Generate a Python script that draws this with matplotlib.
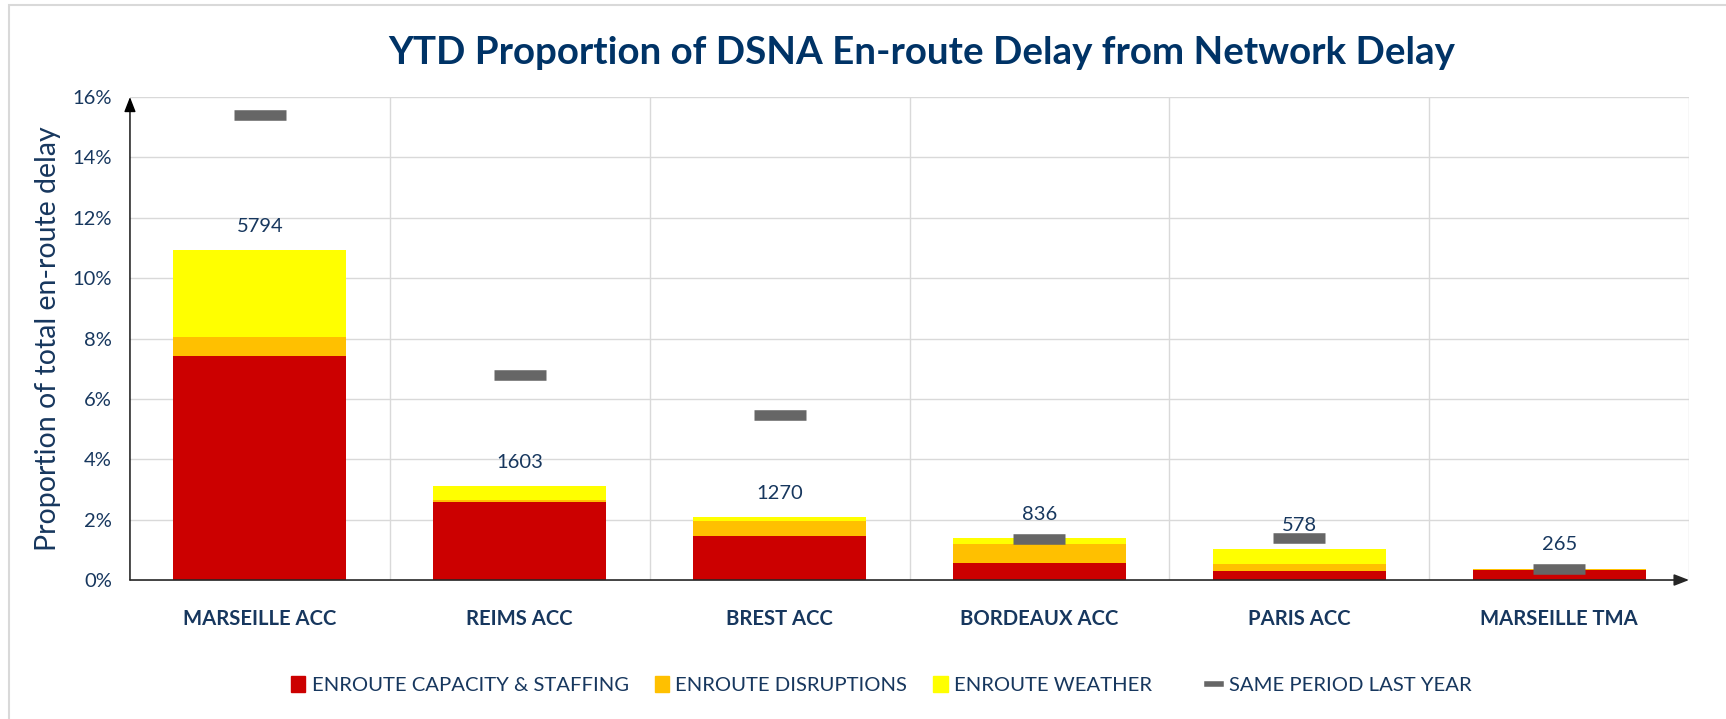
import numpy as np
import matplotlib.pyplot as plt
from matplotlib.patches import Patch, Rectangle
from matplotlib.lines import Line2D

plt.rcParams['font.family'] = ['Lato', 'DejaVu Sans']

#%% datos
categories = ['MARSEILLE ACC', 'REIMS ACC', 'BREST ACC', 'BORDEAUX ACC', 'PARIS ACC', 'MARSEILLE TMA']
capacity = [7.43, 2.59, 1.46, 0.58, 0.29, 0.32]      # % enroute capacity & staffing
disruptions = [0.62, 0.07, 0.49, 0.61, 0.24, 0.03]   # % enroute disruptions
weather = [2.88, 0.44, 0.14, 0.21, 0.51, 0.03]       # % enroute weather
last_year = [15.4, 6.78, 5.46, 1.37, 1.39, 0.36]     # % same period last year
delay_totals = [5794, 1603, 1270, 836, 578, 265]

navy = '#17375E'
col_cap, col_dis, col_wx, col_ly = '#CC0000', '#FFC000', '#FFFF00', '#666666'

#%% figura
fig = plt.figure(figsize=(17.26, 7.19), dpi=100)
ax = fig.add_axes([0.0753, 0.1933, 0.9033, 0.6717])

x = np.arange(len(categories))
cap = np.array(capacity)
dis = np.array(disruptions)
wx = np.array(weather)
w = 0.665

ax.bar(x, cap, w, color=col_cap, zorder=3)
ax.bar(x, dis, w, bottom=cap, color=col_dis, zorder=3)
ax.bar(x, wx, w, bottom=cap + dis, color=col_wx, zorder=3)
ax.plot(x, last_year, linestyle='none', marker='_', markersize=37,
        markeredgewidth=7.6, color=col_ly, zorder=4)

tops = cap + dis + wx
for xi, top, n in zip(x, tops, delay_totals):
    ax.annotate(str(n), (xi, top), xytext=(0, 17), textcoords='offset points',
                ha='center', va='center', fontsize=14.5, color=navy, zorder=5)

ax.set_xlim(-0.5, len(categories) - 0.5)
ax.set_ylim(0, 16)
ax.set_yticks(np.arange(0, 17, 2))
ax.set_yticklabels([f'{v}%' for v in range(0, 17, 2)])
ax.set_xticks(x)
ax.set_xticklabels(categories, fontweight='bold')
ax.set_xticks(np.arange(0.5, len(categories), 1), minor=True)
ax.tick_params(axis='x', which='both', length=0, pad=21, labelsize=14.6, colors=navy)
ax.tick_params(axis='y', length=0, pad=13, labelsize=14.5, colors=navy)
ax.grid(True, axis='y', color='#D9D9D9', lw=1, zorder=0)
ax.grid(True, axis='x', which='minor', color='#D9D9D9', lw=1, zorder=0)
for s in ax.spines.values():
    s.set_visible(False)

# ejes con flecha
ax.annotate('', xy=(0, 1.0), xytext=(0, 0), xycoords='axes fraction',
            arrowprops=dict(arrowstyle='-|>,head_length=0.9,head_width=0.35',
                            color='black', lw=1, shrinkA=0, shrinkB=0), zorder=6)
ax.annotate('', xy=(1.0, 0), xytext=(0, 0), xycoords='axes fraction',
            arrowprops=dict(arrowstyle='-|>,head_length=0.9,head_width=0.35',
                            color='#262626', lw=1.2, shrinkA=0, shrinkB=0), zorder=6)

ax.set_ylabel('Proportion of total en-route delay', fontsize=20.5, color=navy, labelpad=8)

fig.text(0.534, 0.926, 'YTD Proportion of DSNA En-route Delay from Network Delay',
         ha='center', va='center', fontsize=27.7, fontweight='bold', color='#003366')

# leyenda
h1 = [Patch(color=col_cap, label='ENROUTE CAPACITY & STAFFING'),
      Patch(color=col_dis, label='ENROUTE DISRUPTIONS'),
      Patch(color=col_wx, label='ENROUTE WEATHER')]
fig.legend(handles=h1, loc='center', bbox_to_anchor=(0.418, 0.047), ncol=3,
           frameon=False, fontsize=14.6, handlelength=0.7, handleheight=0.8,
           handletextpad=0.3, columnspacing=1.3, labelcolor=navy)
h2 = [Line2D([], [], color=col_ly, lw=4, label='SAME PERIOD LAST YEAR')]
fig.legend(handles=h2, loc='center', bbox_to_anchor=(0.776, 0.047), frameon=False,
           fontsize=14.6, handlelength=0.7, handletextpad=0.4, labelcolor=navy)

# marco exterior
fig.patches.append(Rectangle((9 / 1726, -0.2), 1.3, 1.2 - 5 / 719,
                             transform=fig.transFigure, fill=False,
                             edgecolor='#D9D9D9', lw=1.5))

fig.savefig('out.png', dpi=100)
